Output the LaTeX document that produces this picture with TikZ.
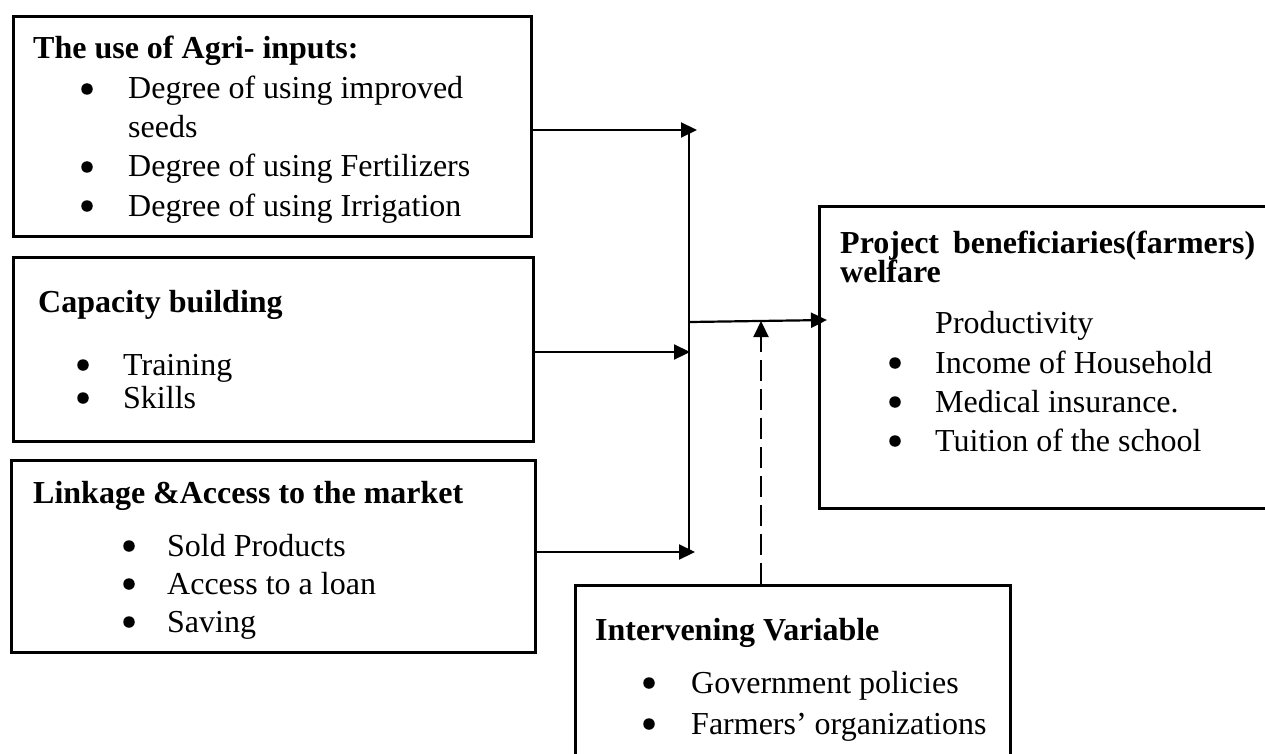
\documentclass[tikz,border=0pt]{standalone}
\usepackage{fontspec}
\setmainfont{Liberation Serif}
\usetikzlibrary{arrows.meta}
\begin{document}
\begin{tikzpicture}[x=1pt,y=-1pt,
  box/.style={draw, line width=2.6pt, inner sep=0pt, anchor=north west},
  txt/.style={anchor=base west, inner sep=0pt, font=\fontsize{32}{38}\selectfont},
  hd/.style={txt, font=\fontsize{32}{38}\selectfont\bfseries},
  bul/.style={circle, fill=black, inner sep=0pt, minimum size=11.5pt},
  arr/.style={line width=2.2pt, -{Triangle[length=16pt,width=15pt]}},
  vline/.style={line width=1.8pt},
  darr/.style={arr, dash pattern=on 21pt off 8pt}]
\useasboundingbox (0,0) rectangle (1265,754);
\clip (0,0) rectangle (1265,754);

% ---- box 1
\node[box, minimum width=518pt, minimum height=220pt] (b1) at (12,15) {};
\node[hd] (b1h) at (33,59) {The use of Agri- inputs:};
\node[bul] (b1u1) at (87,89) {};
\node[txt] (b1t1) at (128,99) {Degree of using improved};
\node[txt] (b1t2) at (128,138) {seeds};
\node[bul] (b1u3) at (87,167) {};
\node[txt] (b1t3) at (128,177) {Degree of using Fertilizers};
\node[bul] (b1u4) at (87,206) {};
\node[txt] (b1t4) at (128,216) {Degree of using Irrigation};

% ---- box 2
\node[box, minimum width=520pt, minimum height=184pt] (b2) at (12,256) {};
\node[hd] (b2h) at (38,312) {Capacity building};
\node[bul] (b2u1) at (83,365) {};
\node[txt] (b2t1) at (123,375) {Training};
\node[bul] (b2u2) at (83,398) {};
\node[txt] (b2t2) at (123,408) {Skills};

% ---- box 3
\node[box, minimum width=524pt, minimum height=192pt] (b3) at (10,459) {};
\node[hd] (b3h) at (33,503) {Linkage \&Access to the market};
\node[bul] (b3u1) at (129,546) {};
\node[txt] (b3t1) at (167,556) {Sold Products};
\node[bul] (b3u2) at (129,584) {};
\node[txt] (b3t2) at (167,594) {Access to a loan};
\node[bul] (b3u3) at (129,622) {};
\node[txt] (b3t3) at (167,632) {Saving};

% ---- right box (runs past the right edge)
\node[box, minimum width=470pt, minimum height=302pt] (rb) at (818,205) {};
\node[hd] (rbh1) at (840,253) {Project\hspace{6pt} beneficiaries(farmers)};
\node[hd] (rbh2) at (840,282) {welfare};
\node[txt] (rbt0) at (935,333) {Productivity};
\node[bul] (rbu1) at (895,363) {};
\node[txt] (rbt1) at (935,373) {Income of Household};
\node[bul] (rbu2) at (895,402) {};
\node[txt] (rbt2) at (935,412) {Medical insurance.};
\node[bul] (rbu3) at (895,441) {};
\node[txt] (rbt3) at (935,451) {Tuition of the school};

% ---- intervening box (runs past the bottom edge)
\node[box, minimum width=435pt, minimum height=200pt] (iv) at (574,584) {};
\node[hd] (ivh) at (595,640) {Intervening Variable};
\node[bul] (ivu1) at (649,683) {};
\node[txt] (ivt1) at (691,693) {Government policies};
\node[bul] (ivu2) at (649,724) {};
\node[txt] (ivt2) at (691,734) {Farmers’ organizations};

% ---- connectors
\coordinate (t1) at (697,130);
\coordinate (t2) at (690,352);
\coordinate (t3) at (695,552);
\coordinate (vtop) at (689,130);
\coordinate (vbot) at (689,554);
\coordinate (m) at (690,322);
\coordinate (t4) at (827,320);
\coordinate (d0) at (761,321);

\draw[arr] (b1.east |- t1) -- (t1);
\draw[arr] (b2.east |- t2) -- (t2);
\draw[arr] ([xshift=-3pt]b3.east |- t3) -- (t3);
\draw[vline] (vtop) -- (vbot);
\draw[arr] (m) -- (t4);
\draw[darr] (iv.north -| d0) -- (d0);
\end{tikzpicture}
\end{document}
